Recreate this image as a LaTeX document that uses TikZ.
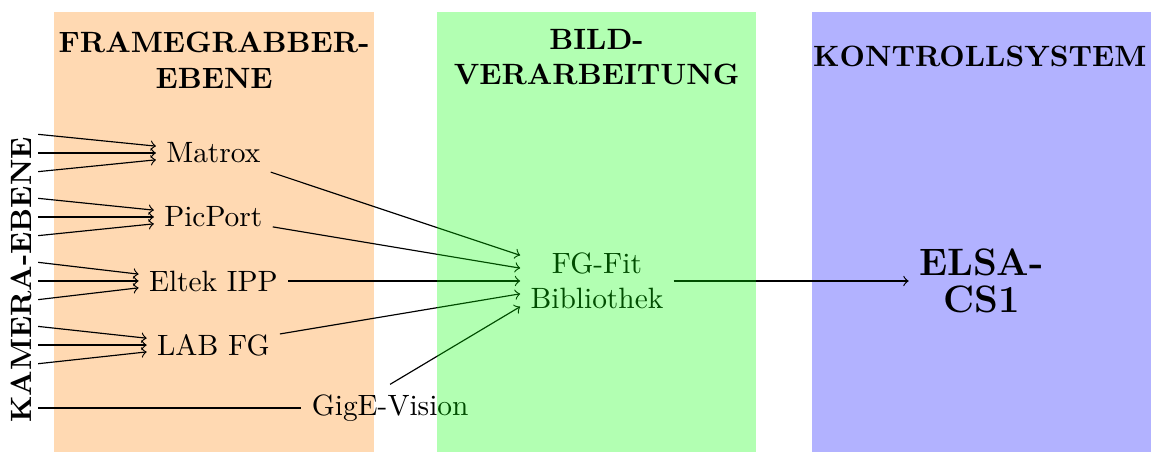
\documentclass[tikz,border=0pt]{standalone}
\usetikzlibrary{positioning}

\begin{document}
\begin{tikzpicture}[scale=0.97,
        every node/.style = {align=center},
        H/.style = {font=\bfseries},% headers of the levels
        C/.style = {->},% connections between the levels
    ]
    \useasboundingbox (0,0) rectangle (14.24,5.573);
    % levels
    \fill[orange!30] (0.666,0) rectangle (4.612,5.425);
    \fill[blue!30]   (10.01,0) rectangle (14.19,5.425);
    \node[H] (hf) at (2.64,4.83)  {FRAMEGRABBER-\\EBENE};
    \node[H] (hk) at (12.08,4.875) {KONTROLLSYSTEM};
    \node[H, rotate=90] (cam) at (0.27,2.12) {KAMERA-EBENE};
    \coordinate (k) at (0.47,0);
    % frame grabbers
    \node (m) at (2.63,3.687) {Matrox};
    \node (p) at (2.63,2.898) {PicPort};
    \node (e) at (2.63,2.109) {Eltek IPP};
    \node (l) at (2.63,1.319) {LAB FG};
    \node (g) at (4.81,0.542) {GigE-Vision};
    \node (f) at (7.36,2.109) {FG-Fit\\Bibliothek};
    \node[font=\fontsize{13}{12.8}\selectfont\bfseries] (cs) at (12.1,2.109) {ELSA-\\CS1};
    % cameras
    \foreach \n in {m,p,e,l}
    \foreach \d in {-1,0,1}
        \draw[C] ([yshift=\d*0.23cm]\n.west -| k) -- ([yshift=\d*2.4pt]\n.west);
    \draw (g.west -| k) -- (g);
    % to the library
    \draw[C] (m) -- ([yshift=9pt]f.west);
    \draw[C] (p) -- ([yshift=4.5pt]f.west);
    \draw[C] (e) -- (f);
    \draw[C] (l) -- ([yshift=-4.5pt]f.west);
    \draw[C] (g.north) -- ([yshift=-9pt]f.west);
    \draw[C] (f) -- (cs);
    % image processing, drawn over its content
    \fill[green, fill opacity=0.3] (5.388,0) rectangle (9.322,5.425);
    \node[H] (hb) at (7.355,4.865) {BILD-\\VERARBEITUNG};
\end{tikzpicture}
\end{document}
